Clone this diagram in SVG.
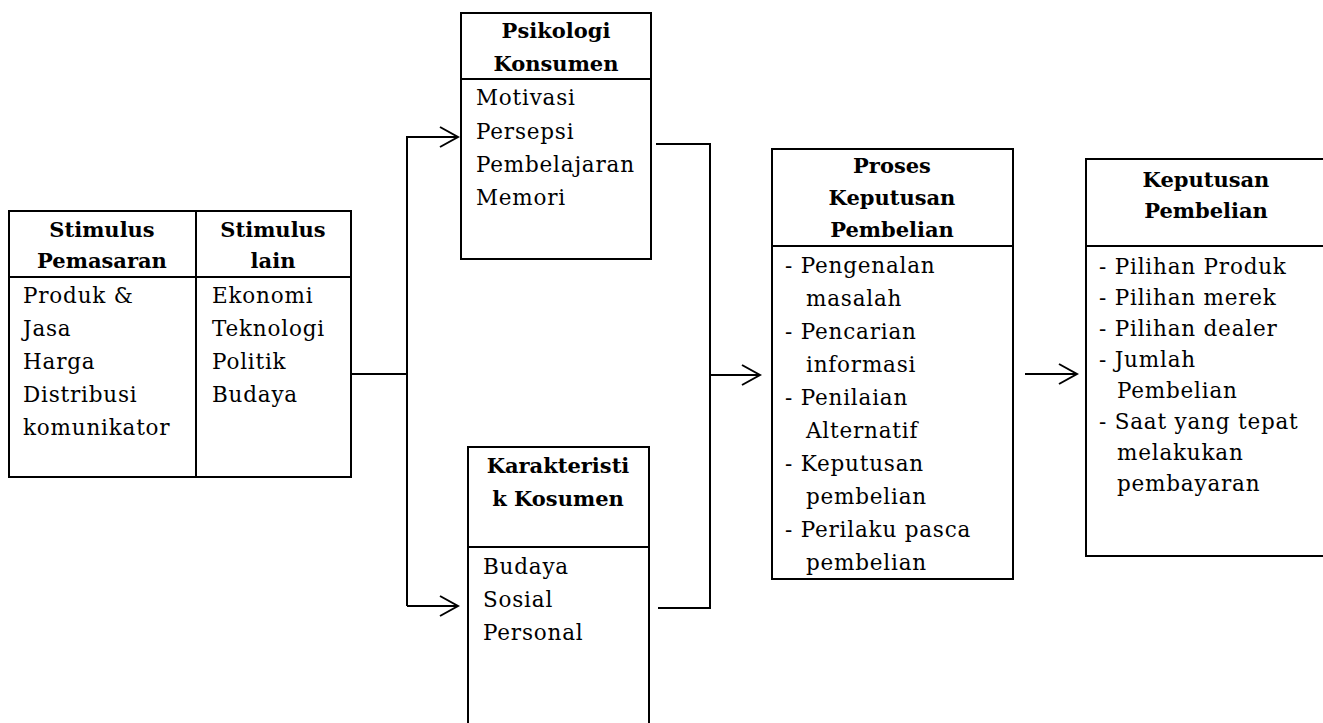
<svg xmlns="http://www.w3.org/2000/svg" width="1323" height="723" viewBox="0 0 1323 723">
<style>
.box{fill:#fff;stroke:#000;stroke-width:2}
.ln{stroke:#000;stroke-width:2;fill:none}
.h{font-family:"DejaVu Serif","Liberation Serif",serif;font-weight:bold;font-size:21px;text-anchor:middle;fill:#000}
.b{font-family:"DejaVu Serif","Liberation Serif",serif;font-size:21.5px;letter-spacing:0.8px;fill:#000}
.c{stroke:#000;stroke-width:2;fill:none}
</style>
<defs>
<marker id="arr" markerUnits="userSpaceOnUse" markerWidth="22" markerHeight="24" viewBox="0 0 22 24" refX="20" refY="12" orient="auto">
<path d="M2,2 L20,12 L2,22" fill="none" stroke="#000" stroke-width="2"/>
</marker>
</defs>
<rect width="1323" height="723" fill="#fff"/>

<g id="connectors">
<path class="c" d="M351,374 H407"/>
<path class="c" d="M407,606 V137 H458" marker-end="url(#arr)"/>
<path class="c" d="M407,606 H458" marker-end="url(#arr)"/>
<path class="c" d="M656,144 H710 V608 H658"/>
<path class="c" d="M710,375 H760" marker-end="url(#arr)"/>
<path class="c" d="M1025,374 H1077" marker-end="url(#arr)"/>
</g>

<g id="stimulus">
<rect class="box" x="9" y="211" width="342" height="266"/>
<path class="ln" d="M9,277 H351 M196,211 V477"/>
<text class="h" x="102" y="237">Stimulus</text>
<text class="h" x="102" y="268">Pemasaran</text>
<text class="h" x="273" y="237">Stimulus</text>
<text class="h" x="273" y="268">lain</text>
<text class="b" x="23" y="303">Produk &amp;</text>
<text class="b" x="23" y="336">Jasa</text>
<text class="b" x="23" y="369">Harga</text>
<text class="b" x="23" y="402">Distribusi</text>
<text class="b" x="23" y="435">komunikator</text>
<text class="b" x="212" y="303">Ekonomi</text>
<text class="b" x="212" y="336">Teknologi</text>
<text class="b" x="212" y="369">Politik</text>
<text class="b" x="212" y="402">Budaya</text>
</g>

<g id="psikologi">
<rect class="box" x="461" y="13" width="190" height="246"/>
<path class="ln" d="M461,79 H651"/>
<text class="h" x="556" y="38">Psikologi</text>
<text class="h" x="556" y="71">Konsumen</text>
<text class="b" x="476" y="105">Motivasi</text>
<text class="b" x="476" y="139">Persepsi</text>
<text class="b" x="476" y="172">Pembelajaran</text>
<text class="b" x="476" y="205">Memori</text>
</g>

<g id="karakteristik">
<rect class="box" x="468" y="447" width="181" height="290"/>
<path class="ln" d="M468,547 H649"/>
<text class="h" x="558" y="473">Karakteristi</text>
<text class="h" x="558" y="506">k Kosumen</text>
<text class="b" x="483" y="574">Budaya</text>
<text class="b" x="483" y="607">Sosial</text>
<text class="b" x="483" y="640">Personal</text>
</g>

<g id="proses">
<rect class="box" x="772" y="149" width="241" height="430"/>
<path class="ln" d="M772,246 H1013"/>
<text class="h" x="892" y="173">Proses</text>
<text class="h" x="892" y="205">Keputusan</text>
<text class="h" x="892" y="237">Pembelian</text>
<text class="b" x="785" y="273">- Pengenalan</text>
<text class="b" x="806" y="306">masalah</text>
<text class="b" x="785" y="339">- Pencarian</text>
<text class="b" x="806" y="372">informasi</text>
<text class="b" x="785" y="405">- Penilaian</text>
<text class="b" x="806" y="438">Alternatif</text>
<text class="b" x="785" y="471">- Keputusan</text>
<text class="b" x="806" y="504">pembelian</text>
<text class="b" x="785" y="537">- Perilaku pasca</text>
<text class="b" x="806" y="570">pembelian</text>
</g>

<g id="keputusan">
<rect class="box" x="1086" y="159" width="240" height="397"/>
<path class="ln" d="M1086,246 H1326"/>
<text class="h" x="1206" y="187">Keputusan</text>
<text class="h" x="1206" y="218">Pembelian</text>
<text class="b" x="1099" y="274">- Pilihan Produk</text>
<text class="b" x="1099" y="305">- Pilihan merek</text>
<text class="b" x="1099" y="336">- Pilihan dealer</text>
<text class="b" x="1099" y="367">- Jumlah</text>
<text class="b" x="1117" y="398">Pembelian</text>
<text class="b" x="1099" y="429">- Saat yang tepat</text>
<text class="b" x="1117" y="460">melakukan</text>
<text class="b" x="1117" y="491">pembayaran</text>
</g>
</svg>
